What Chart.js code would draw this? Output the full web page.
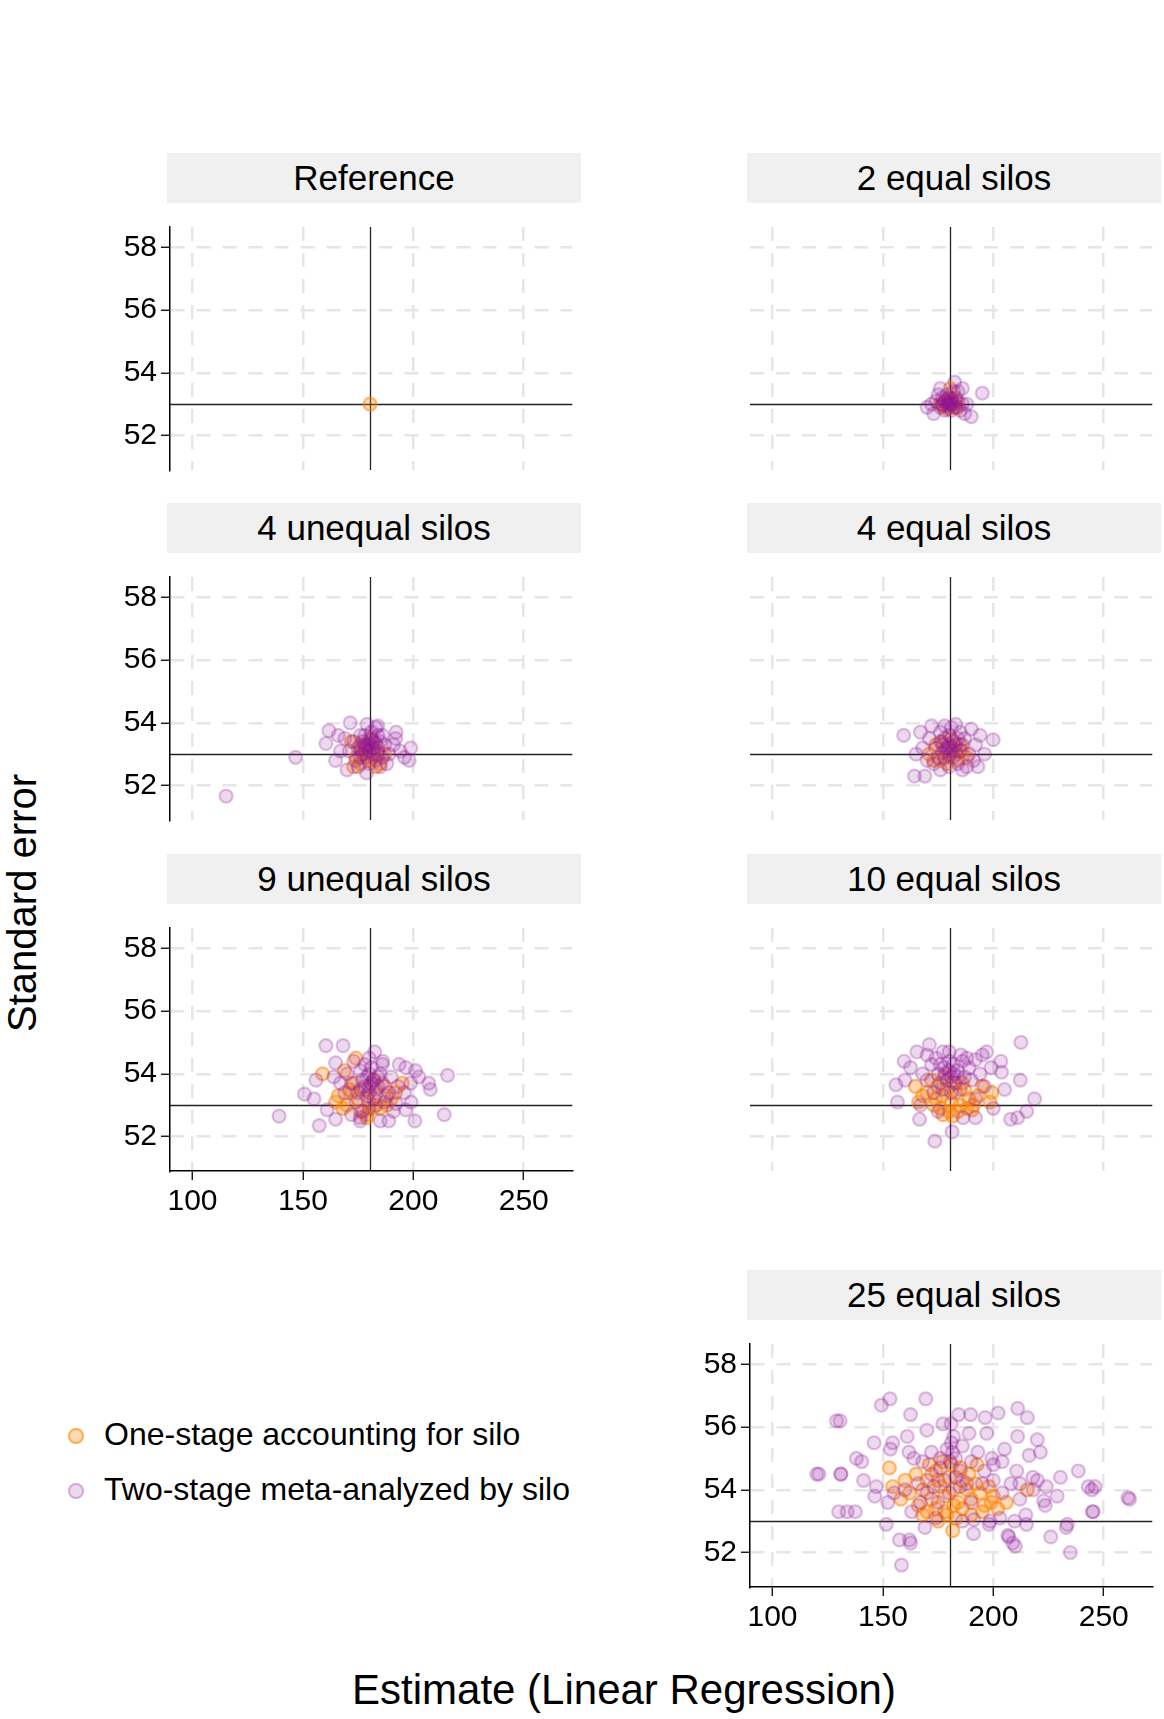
<!DOCTYPE html>
<html><head><meta charset="utf-8">
<script src="https://cdn.jsdelivr.net/npm/chart.js@4"></script>
<style>
body{margin:0;background:#fff;width:1164px;height:1719px;position:relative;overflow:hidden;font-family:"Liberation Sans",Arial,sans-serif}
.strip{position:absolute;background:#f0f0f0;color:#000;font-size:35px;text-align:center;line-height:50px;height:50px}
canvas{position:absolute}
.lab{position:absolute;color:#000;white-space:nowrap}
.dot{position:absolute;width:12px;height:12px;border-radius:50%}
</style></head><body>
<script>
// ---------- data ----------
const panelTitles = ["Reference","2 equal silos","4 unequal silos","4 equal silos","9 unequal silos","10 equal silos","25 equal silos"];
const legendLabels = ["One-stage accounting for silo","Two-stage meta-analyzed by silo"];
const refX = 180.4, refY = 53.0;
const xTicks = [100,150,200,250];
const yTicks = [52,54,56,58];

const refOne = [[180.4,53.0]];
const refTwo = [];

const eq2One = [[180,53.0],[178,53.1],[182,52.9],[181,53.2],[179,52.85],[183,53.1],[177,52.95],[180.5,53.5],[176,53.0],[184,52.9]];
const eq2Two = [[180,53.0],[178,53.1],[182,53.0],[176,52.9],[184,53.1],[179,53.3],[181,52.8],[174,53.1],[186,53.0],[177,53.2],[183,53.2],[180,52.9],[172,53.0],[188,53.0],[178,52.8],[182,53.4],[175,53.3],[185,52.8],[180,53.2],[179,52.95],[181,53.15],[183,52.9],[177,53.0],[170,52.9],[190,52.6],[195,53.35],[182.5,53.7],[186,53.5],[173,52.7],[187,52.7],[176,53.5],[184,53.4],[180,53.05],[181,53.0],[179,53.1]];

const uneq4One = [[172,53.4],[174,52.9],[176,52.7],[178,53.0],[180,52.8],[182,52.9],[184,53.2],[179,53.3],[185,52.7],[173,52.6],[187,53.0],[181,53.5],[177,53.1],[183,52.6],[176,53.3]];
const uneq4Two = [[115.2,51.66],[146.7,52.9],[161.8,53.75],[171.4,54.0],[160.4,53.34],[198.8,53.2],[198.1,52.8],[170,52.5],[178.8,52.4],[164.8,52.8],[192.2,53.7],[183.9,53.9],
[181,53.2],[178,53.3],[184,53.1],[175,53.2],[187,53.3],[180,53.5],[182,53.0],[176,53.6],[186,53.6],[173,53.4],[189,53.0],[179,52.9],[183,52.8],[177,53.0],[185,53.4],[181,53.7],[171,53.1],[191,53.3],[180,53.1],[182,53.4],[178,53.6],[184,53.6],[176,52.9],[186,52.9],[174,52.8],[188,52.7],[180,52.7],[192,53.5],[169,53.5],[194,53.1],[196,52.9],[183,53.85],[179,53.95],[175,52.6],[185,52.6],[180,53.3],[182,53.2],[178,53.15],[181,53.45],[179,53.25],[183,53.35],[177,53.4],[184,53.0],[176,53.15],[166,53.6],[167,53.1]];

const eq4One = [[171,53.0],[174,53.3],[176,52.8],[178,53.1],[180,52.9],[182,53.2],[184,52.8],[186,53.1],[179,52.7],[183,53.0],[173,52.8],[188,52.9],[177,53.4],[181,53.5],[185,53.3]];
const eq4Two = [[164.3,52.3],[169,52.3],[199.9,53.46],[159.4,53.6],[191.1,52.8],[180,53.2],[177,53.3],[183,53.1],[174,53.2],[186,53.3],[180,53.6],[182,52.9],[176,53.7],[185,53.7],[171,53.5],[189,53.0],[178,52.9],[184,52.7],[175,52.9],[187,53.5],[181,53.85],[168,53.2],[192,53.3],[180,53.0],[182,53.4],[178,53.5],[184,53.5],[173,52.7],[188,52.6],[180,52.6],[194,53.6],[167,53.7],[196,53.0],[183,53.95],[178,53.9],[172,53.9],[190,53.8],[170,52.8],[180,53.3],[181,53.1],[179,53.2],[183,53.3],[177,53.05],[185,53.1],[176,53.4],[165,53.0],[193,52.6],[186,52.5],[176,52.5]];

const uneq9One = [[174,54.5],[168.8,54.1],[158.9,54.0],[164.8,53.1],[178.8,52.7],[181.8,52.9],[166,53.3],[170,53.0],[172,53.4],[175,53.2],[178,53.5],[180,53.1],[183,53.3],[185,52.9],[187,53.6],[190,53.2],[176,52.8],[173,53.7],[182,53.8],[195,53.7],[168,52.9],[179,52.6],[188,53.0],[192,53.4],[171,53.5]];
const uneq9Two = [[160.4,54.9],[168.2,54.9],[182.5,54.7],[215.5,53.95],[150.7,53.35],[139.2,52.65],[157.4,52.35],[164.8,52.55],[175.9,52.5],[188.9,52.5],[200.7,52.5],[214,52.7],[207.7,53.5],[198.8,53.7],[164.8,54.35],[186.2,54.4],[193.6,54.3],[196.6,54.2],[202.5,53.9],[207,53.7],[155.9,53.8],[155,53.2],[161,52.85],[196.6,52.85],[192.2,53.05],
[180,53.6],[177,53.8],[183,53.5],[175,53.4],[186,53.7],[180,54.0],[182,53.2],[176,54.1],[185,54.0],[172,53.7],[189,53.4],[179,53.3],[184,53.9],[178,54.3],[190,53.9],[170,54.0],[193,53.6],[181,54.2],[174,53.1],[187,53.1],[180,52.9],[169,53.4],[196,53.4],[183,53.0],[177,52.8],[186,54.3],[173,54.4],[180,53.4],[181,53.7],[179,53.9],[182,53.8],[178,53.6],[184,53.6],[176,53.5],[188,53.3],[167,53.7],[199,53.1],[172,52.7],[191,52.8],[164,53.9],[201,54.1],[180,54.5],[176,52.6],[185,52.5]];

const eq10One = [[164.7,53.6],[166.2,53.1],[177.2,52.7],[181.6,52.65],[190.4,52.85],[199.3,53.4],[198.5,53.1],[170,53.4],[173,53.0],[175,53.6],[177,53.3],[179,53.5],[181,53.1],[183,53.4],[185,53.0],[187,53.5],[189,53.2],[172,53.8],[176,52.9],[180,52.8],[184,52.8],[193,53.3],[195,53.6],[168,53.3],[182,53.7],[186,53.7],[178,53.9],[191,53.0],[174,53.2],[188,52.9]];
const eq10Two = [[171,54.93],[212.5,55.0],[197,54.7],[159.6,54.4],[203.4,54.4],[212.2,53.8],[155.9,53.65],[156.6,53.1],[218.7,53.2],[215.1,52.8],[211,52.6],[207.8,52.55],[166.6,52.55],[181.3,52.15],[173.5,51.85],[186.3,52.6],[191.9,52.6],[205.1,53.5],[203.7,54.05],[165.4,54.7],[177.2,54.7],[185.3,54.6],[191.9,54.45],[162.5,54.2],
[175,54.0],[178,54.2],[181,53.9],[184,54.1],[187,53.9],[172,54.3],[176,53.7],[180,54.4],[183,53.7],[189,54.2],[170,53.8],[194,54.0],[179,53.8],[182,54.3],[186,54.4],[174,54.5],[196,53.6],[168,54.0],[190,53.8],[177,53.5],[181,53.4],[185,53.5],[173,53.4],[192,53.2],[160,53.8],[199,54.2],[180,54.7],[167,53.0],[200,52.9],[178,54.0],[180,54.1],[176,54.3],[184,53.9],[182,54.0],[188,54.5],[195,54.6],[170,54.6],[175,52.8]];

const eq25One = [[152.9,54.7],[154.4,54.1],[158.1,53.7],[215.4,54.0],[205.9,53.6],[192.6,54.8],[181.6,52.7],[175,53.0],
[165,54.5],[168,54.0],[170,54.3],[172,53.7],[174,54.6],[176,54.1],[178,53.8],[180,54.4],[182,54.0],[184,53.6],[186,54.3],[188,54.0],[190,53.7],[192,54.2],[194,53.9],[196,53.5],[198,54.1],[200,53.8],[202,53.4],[162,53.9],[166,53.5],[170,53.3],[174,53.4],[178,53.3],[182,53.5],[186,53.4],[190,53.2],[177,54.9],[181,54.8],[185,54.7],[171,54.8],[160,54.3],[179,53.2],[183,53.1],[168,53.2],[195,53.3],[199,53.6],[175,54.3],[189,54.5]];
const eq25Two = [[130.6,56.2],[149.3,56.7],[153.2,56.9],[162.5,56.4],[169.4,56.9],[146,55.5],[154.4,55.5],[153.4,55.3],[161,55.7],[161.8,55.2],[140.4,54.9],[121,54.5],[130.9,54.5],[141.2,54.3],[147,54.1],[146.3,53.8],[152.2,53.6],[133.8,53.3],[137.5,53.3],[151.5,52.9],[162.5,52.3],[169.9,55.9],[177.2,56.1],[180.9,56.1],[184.3,56.4],[189.7,56.4],[196.3,56.3],[202.2,56.45],[211,56.6],[215.4,56.3],[189,55.8],[197,55.8],[211,55.7],[219.9,55.6],[221.3,55.2],[216.2,55.1],[205.1,55.3],[199.3,55.0],[210.6,54.6],[217.9,54.4],[230.4,54.4],[238.5,54.6],[243,54.1],[244.6,54.0],[228.9,53.8],[261,53.75],[244.9,53.3],[223.5,53.5],[222.8,53.65],[214.7,53.2],[209.6,53.0],[206.6,52.55],[208.8,52.3],[233,52.8],[198.5,53.0],[191.2,53.05],
[157.5,52.4],[158.4,51.6],[162,52.4],[207,52.5],[210,52.2],[234.9,52.0],[233.5,52.9],[245.2,53.3],[246,54.1],[261.7,53.7],[130,53.3],[120,54.5],[131,54.5],[129,56.2],
[181,55.5],[181.5,55.2],[180.5,54.9],[182,55.7],[179,55.3],[183,55.0],[186,55.4],[176,55.0],[172,55.2],[168,54.9],[164,55.0],[193,55.2],[200,54.8],[204,54.9],[208,54.2],[212,54.2],[220,54.3],[224,54.1],[172,54.5],[176,54.7],[185,54.6],[190,54.9],[196,54.6],[166,54.2],[160,54.0],[155,53.9],[204,53.9],[212,53.7],[218,54.0],[170,53.9],[175,53.6],[180,53.9],[185,54.1],[190,53.6],[195,54.2],[200,54.3],[178,54.3],[183,54.4],[188,54.2],[173,54.1],[167,53.6],[163,53.3],[198,52.9],[203,53.1],[186,53.0],[174,53.1],[169,52.8],[191,52.6],[226,52.5],[215,52.9],[138,55.0]];

// ---------- layout ----------
const PW=411, PH=265, YW=75, XH=60;
const panels=[
 {t:0,one:refOne,two:refTwo,L:170,T:205,sy:true,sx:false},
 {t:1,one:eq2One,two:eq2Two,L:750,T:205,sy:false,sx:false},
 {t:2,one:uneq4One,two:uneq4Two,L:170,T:555,sy:true,sx:false},
 {t:3,one:eq4One,two:eq4Two,L:750,T:555,sy:false,sx:false},
 {t:4,one:uneq9One,two:uneq9Two,L:170,T:906,sy:true,sx:true},
 {t:5,one:eq10One,two:eq10Two,L:750,T:906,sy:false,sx:false},
 {t:6,one:eq25One,two:eq25Two,L:750,T:1322,sy:true,sx:true}
];
const PURPLE_BG='rgba(140,20,150,0.16)', PURPLE_BD='rgba(140,20,150,0.26)';
const ORANGE_BG='rgba(255,128,0,0.30)', ORANGE_BD='rgba(255,128,0,0.50)';
const toPts=a=>a.map(p=>({x:p[0],y:p[1]}));

const refLines={id:'refLines',beforeDatasetsDraw(c){const x=c.scales.x,y=c.scales.y,ctx=c.ctx,a=c.chartArea;
 ctx.save();ctx.strokeStyle='#222';ctx.lineWidth=1.3;ctx.beginPath();
 const px=Math.round(x.getPixelForValue(refX))+0.5, py=Math.round(y.getPixelForValue(refY))+0.5;
 ctx.moveTo(px,a.top);ctx.lineTo(px,a.bottom);ctx.moveTo(a.left,py);ctx.lineTo(a.right,py);ctx.stroke();ctx.restore();}};

panels.forEach(p=>{
 const s=document.createElement('div');s.className='strip';
 s.style.left=(p.L-3)+'px';s.style.top=(p.T-52)+'px';s.style.width=(PW+3)+'px';s.textContent=panelTitles[p.t];
 document.body.appendChild(s);
 const cv=document.createElement('canvas');
 cv.style.left=(p.L-YW)+'px';cv.style.top=p.T+'px';
 cv.style.width=(YW+PW)+'px';cv.style.height=(PH+XH)+'px';
 cv.width=YW+PW;cv.height=PH+XH;
 document.body.appendChild(cv);
 const axisCommon=(show,ticks)=>({
   grid:{color:'#e6e6e6',lineWidth:2.5,tickColor:show?'#000':'rgba(0,0,0,0)',tickLength:9,tickWidth:1.3,tickBorderDash:[]},
   border:{display:show,color:'#000',width:1.5,dash:[14,12]},
   afterBuildTicks:sc=>{sc.ticks=ticks.map(v=>({value:v}));},
   ticks:{display:true,color:show?'#000':'rgba(0,0,0,0)',font:{family:'"Liberation Sans", Arial',size:30},padding:4}
 });
 const xs=axisCommon(p.sx,xTicks), ys=axisCommon(p.sy,yTicks);
 new Chart(cv,{type:'scatter',
  data:{datasets:[
   {data:toPts(p.two),backgroundColor:PURPLE_BG,borderColor:PURPLE_BD,borderWidth:2.2,pointRadius:6.5},
   {data:toPts(p.one),backgroundColor:ORANGE_BG,borderColor:ORANGE_BD,borderWidth:2.2,pointRadius:6.5}]},
  options:{responsive:false,animation:false,devicePixelRatio:1,
   layout:{padding:0},
   plugins:{legend:{display:false},tooltip:{enabled:false}},
   scales:{
    x:{...xs,type:'linear',min:89.8,max:272,afterFit:sc=>{sc.height=XH;}},
    y:{...ys,type:'linear',min:50.9,max:58.65,afterFit:sc=>{sc.width=YW;}}
   }},
  plugins:[refLines]});
});

// legend
[[ORANGE_BG,ORANGE_BD,1435],[PURPLE_BG,PURPLE_BD,1490]].forEach((l,i)=>{
 const d=document.createElement('div');d.className='dot';d.style.left='68px';d.style.top=(l[2]-7)+'px';
 d.style.background=l[0];d.style.border='2px solid '+l[1];document.body.appendChild(d);
 const t=document.createElement('div');t.className='lab';t.style.left='104px';t.style.top=(l[2]-19)+'px';
 t.style.fontSize='32px';t.textContent=legendLabels[i];document.body.appendChild(t);
});
const yt=document.createElement('div');yt.className='lab';yt.textContent='Standard error';
yt.style.fontSize='40px';yt.style.left='22px';yt.style.top='903px';
yt.style.transform='translate(-50%,-50%) rotate(-90deg)';document.body.appendChild(yt);
const xt=document.createElement('div');xt.className='lab';xt.textContent='Estimate (Linear Regression)';
xt.style.fontSize='42px';xt.style.left='624px';xt.style.top='1690px';
xt.style.transform='translate(-50%,-50%)';document.body.appendChild(xt);
</script>
</body></html>
